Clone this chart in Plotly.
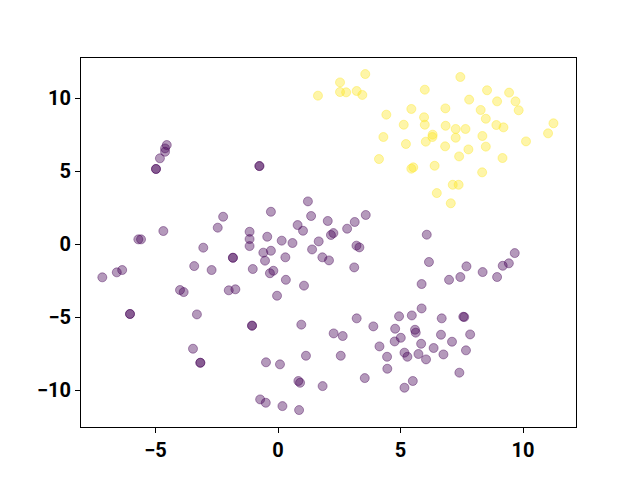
import plotly.graph_objects as go

purple_x = [-4.54, -4.61, -4.61, -4.82, -4.98, -4.98, -0.76, -0.76, -0.29, -2.24, -2.46, 0.8, -4.68,
            -5.7, -5.59, -1.16, -1.16, -1.16, -0.44, 0.15, 0.59, -3.05, -0.6, -0.29, -1.84, -1.84,
            0.3, -0.53, -3.42, -2.71, -1.03, -0.33, -0.19, 0.32, -7.17, -6.58, -6.36, -4.0, -3.85,
            -2.01, -1.74, -0.04, -6.04, -6.04, -3.31, -1.06, -1.06, 0.95, -3.47, -3.17, -3.17,
            -0.49, 0.08, 0.83, 0.9, -0.73, -0.5, 0.18, 0.86, 1.22, 1.35, 1.02, 2.03, 2.82, 3.13,
            3.58, 2.26, 2.16, 1.66, 1.39, 3.2, 3.32, 1.81, 2.08, 3.11, 1.06, 6.07, 6.16, 5.86,
            5.86, 3.21, 2.27, 2.64, 3.89, 4.94, 5.46, 4.78, 5.59, 5.62, 5.01, 4.76, 4.14, 5.84,
            5.16, 5.28, 5.73, 6.04, 4.45, 4.46, 1.14, 2.56, 3.54, 1.82, 5.5, 5.16, 7.69, 6.98,
            7.44, 8.35, 8.94, 9.17, 9.42, 9.66, 6.68, 7.56, 7.6, 6.65, 7.84, 7.1, 6.35, 6.75,
            7.67, 7.4]
purple_y = [6.78, 6.55, 6.32, 5.87, 5.14, 5.14, 5.34, 5.34, 2.21, 1.87, 1.12, 1.3, 0.89,
            0.32, 0.32, 0.84, 0.34, -0.14, 0.5, 0.23, 0.07, -0.25, -0.59, -0.46, -0.94, -0.94,
            -0.91, -1.14, -1.51, -1.78, -1.71, -2.0, -1.83, -2.45, -2.28, -1.94, -1.78, -3.15, -3.29,
            -3.17, -3.1, -3.54, -4.79, -4.79, -4.82, -5.59, -5.59, -5.52, -7.17, -8.13, -8.13,
            -8.1, -8.24, -9.38, -9.5, -10.64, -10.87, -11.1, -11.37, 2.92, 1.92, 0.91, 1.58, 1.05, 1.51,
            1.99, 0.75, 0.62, 0.18, -0.37, -0.11, -0.23, -0.91, -1.12, -1.6, -2.85, 0.64, -1.23, -2.74,
            -4.41, -5.09, -6.12, -6.3, -5.64, -4.95, -4.89, -5.8, -5.87, -6.07, -6.42, -6.67, -7.01, -6.83,
            -7.44, -7.72, -7.53, -7.9, -7.72, -8.54, -7.65, -7.65, -9.18, -9.73, -9.38, -9.84, -1.53, -2.45,
            -2.26, -1.92, -2.26, -1.49, -1.32, -0.62, -5.09, -4.98, -5.0, -6.21, -6.19, -6.69, -7.12, -7.56,
            -7.28, -8.81]

yellow_x = [3.56, 2.53, 2.53, 2.78, 3.21, 3.44, 1.63, 5.99, 4.42, 5.44, 5.96, 5.99, 5.13, 6.31,
            6.3, 4.3, 5.22, 6.03, 4.12, 5.44, 5.52, 6.39, 6.48, 7.44, 8.53, 9.43, 7.8, 8.94, 9.69,
            9.82, 6.83, 8.27, 8.48, 6.84, 7.25, 7.65, 8.91, 9.2, 11.24, 11.02, 7.25, 8.34, 10.12,
            6.82, 7.77, 8.48, 7.39, 9.16, 8.33, 7.13, 7.37, 7.05]
yellow_y = [11.64, 11.07, 10.41, 10.39, 10.48, 10.21, 10.16, 10.57, 8.86, 9.25, 8.68, 8.17, 8.17, 7.49,
            7.33, 7.33, 6.85, 7.01, 5.82, 5.16, 5.25, 5.36, 3.49, 11.44, 10.53, 10.37, 9.89, 9.77, 9.77,
            9.16, 9.29, 9.18, 8.58, 8.1, 7.88, 7.88, 8.15, 7.99, 8.27, 7.58, 7.28, 7.4, 7.03,
            6.69, 6.48, 6.67, 6.0, 5.89, 4.91, 4.06, 4.06, 2.79]

x_ticks = [-5, 0, 5, 10]
y_ticks = [-10, -5, 0, 5, 10]

fig = go.Figure()
for xs, ys, rgb in [(purple_x, purple_y, "68,1,84"), (yellow_x, yellow_y, "253,231,37")]:
    fig.add_trace(go.Scatter(
        x=xs, y=ys, mode="markers",
        marker=dict(size=9, color=f"rgba({rgb},0.4)",
                    line=dict(color=f"rgba({rgb},0.4)", width=1)),
        showlegend=False, hoverinfo="skip"))

axis_common = dict(showgrid=False, zeroline=False, showline=True, linecolor="black",
                   linewidth=1, mirror=True, ticks="outside", ticklen=5, tickwidth=1,
                   tickcolor="black", automargin=False,
                   tickfont=dict(family="Roboto", size=20, color="black", weight="bold"))
fig.update_xaxes(range=[-8.04, 12.16], tickvals=x_ticks, **axis_common)
fig.update_yaxes(range=[-12.53, 12.74], tickvals=y_ticks, **axis_common)
fig.update_layout(width=624, height=464, plot_bgcolor="white", paper_bgcolor="white",
                  margin=dict(l=73, r=56, t=50, b=45))
fig.write_html("out.html")
